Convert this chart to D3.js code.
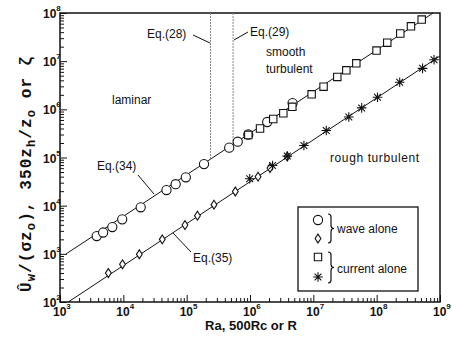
<!DOCTYPE html>
<html>
<head>
<meta charset="utf-8">
<script src="https://d3js.org/d3.v7.min.js"></script>
<style>
body { margin: 0; background: #fff; }
text { font-family: "Liberation Sans", Arial, sans-serif; fill: #111; }
</style>
</head>
<body>
<div id="visu"></div>
<script>

// Dimensions
var largeur = 452,
    hauteur = 344,
    marge = {haut: 13, droite: 12, bas: 42, gauche: 60};

// Exposants des graduations (10^n)
var expX = [3, 4, 5, 6, 7, 8, 9];
var expY = [2, 3, 4, 5, 6, 7, 8];

// wave alone, cercles (ligne du haut)
var cercleRa  = [3.8e3, 4.8e3, 6.7e3, 9.6e3, 1.88e4, 4.8e4, 6.7e4, 9.7e4, 1.88e5, 4.7e5, 6.4e5, 9.4e5, 1.87e6, 4.7e6];
var cercleVal = [2.34e3, 2.77e3, 3.6e3, 5.2e3, 9.25e3, 2.11e4, 2.79e4, 3.88e4, 7.3e4, 1.6e5, 2.13e5, 3.0e5, 5.46e5, 1.35e6];

// current alone, carrés (ligne du haut)
var carreRa  = [9.4e5, 1.44e6, 2.33e6, 3.36e6, 4.66e6, 9.4e6, 1.45e7, 2.39e7, 3.32e7, 4.77e7, 9.95e7, 1.47e8, 2.36e8, 3.48e8, 5.14e8];
var carreVal = [2.93e5, 4.0e5, 6.3e5, 8.3e5, 1.13e6, 2.05e6, 2.95e6, 4.7e6, 6.46e6, 9.0e6, 1.66e7, 2.42e7, 3.75e7, 5.3e7, 7.3e7];

// wave alone, losanges (ligne du bas)
var losangeRa  = [5.8e3, 9.7e3, 1.79e4, 4.12e4, 9.4e4, 1.48e5, 2.7e5, 5.87e5, 1.34e6, 2.07e6, 3.88e6];
var losangeVal = [4.0e2, 6.07e2, 9.8e2, 2.0e3, 3.96e3, 6.19e3, 1.05e4, 1.97e4, 3.99e4, 6.05e4, 1.05e5];

// current alone, étoiles (ligne du bas)
var etoileRa  = [9.9e5, 2.27e6, 3.88e6, 7.1e6, 1.6e7, 3.63e7, 5.8e7, 1.03e8, 2.31e8, 5.3e8, 8.05e8];
var etoileVal = [3.63e4, 6.8e4, 1.07e5, 1.77e5, 3.63e5, 6.93e5, 1.07e6, 1.78e6, 3.66e6, 7.1e6, 1.07e7];

// Droites Eq.(34) et Eq.(35)
var hautRa = [1.25e3, 7.8e8], hautVal = [1e3, 1e8];
var basRa  = [1.35e3, 1e9],   basVal  = [1e2, 1.28e7];

// Limites Eq.(28) et Eq.(29)
var limitesRa = [2.38e5, 5.4e5];

var svg = d3.select("#visu")
  .append("svg")
    .attr("width", largeur)
    .attr("height", hauteur);

var x = d3.scaleLog().domain([1e3, 1e9]).range([marge.gauche, largeur - marge.droite]);
var y = d3.scaleLog().domain([1e2, 1e8]).range([hauteur - marge.bas, marge.haut]);

// graduations mineures
var mineurs = [];
for (var e = 3; e < 9; e++) for (var m = 2; m < 10; m++) mineurs.push(m * Math.pow(10, e));
var mineursY = mineurs.map(d => d / 10);

var basY = hauteur - marge.bas;

svg.append("g").attr("transform", "translate(0," + basY + ")")
  .call(d3.axisBottom(x).tickValues(expX.map(d => Math.pow(10, d))).tickSize(-7).tickFormat(""));
svg.append("g").attr("transform", "translate(0," + basY + ")")
  .call(d3.axisBottom(x).tickValues(mineurs).tickSize(-4).tickFormat(""));
svg.append("g").attr("transform", "translate(" + marge.gauche + ",0)")
  .call(d3.axisLeft(y).tickValues(expY.map(d => Math.pow(10, d))).tickSize(-7).tickFormat(""));
svg.append("g").attr("transform", "translate(" + marge.gauche + ",0)")
  .call(d3.axisLeft(y).tickValues(mineursY).tickSize(-4).tickFormat(""));
svg.selectAll(".domain").remove();
svg.selectAll(".tick line").attr("stroke", "#111").attr("stroke-width", 1);

// cadre
svg.append("rect")
  .attr("x", marge.gauche).attr("y", marge.haut)
  .attr("width", largeur - marge.droite - marge.gauche)
  .attr("height", basY - marge.haut)
  .attr("fill", "none").attr("stroke", "#111").attr("stroke-width", 1.5);

// étiquettes des axes
expX.forEach(function(n) {
  var t = svg.append("text")
    .attr("x", x(Math.pow(10, n)) - 7).attr("y", basY + 14)
    .style("font-size", "12px").style("font-weight", "bold");
  t.append("tspan").text("10");
  t.append("tspan").attr("dy", -7).style("font-size", "8px").text(n);
});
expY.forEach(function(n) {
  var t = svg.append("text")
    .attr("x", marge.gauche - 17).attr("y", y(Math.pow(10, n)) + 5)
    .style("font-size", "12px").style("font-weight", "bold");
  t.append("tspan").text("10");
  t.append("tspan").attr("dy", -7).style("font-size", "8px").text(n);
});

svg.append("text")
  .attr("x", 251).attr("y", 330)
  .attr("text-anchor", "middle")
  .style("font-size", "13px").style("font-weight", "bold")
  .text("Ra, 500Rc or R");

// titre axe y
var ty = svg.append("text")
  .attr("transform", "translate(31,292) rotate(-90)")
  .style("font-family", "'Liberation Mono', monospace")
  .style("font-size", "16px").style("font-weight", "bold")
  .style("letter-spacing", "1.1px");
var morceaux = [["Û", 0], ["w", 1], ["/(σz", 0], ["o", 1], ["), 350z", 0], ["h", 1], ["/z", 0], ["o", 1], [" or ζ", 0]];
var bas = false;
morceaux.forEach(function(p) {
  var s = ty.append("tspan").text(p[0]);
  if (p[1] && !bas) { s.attr("dy", 4).style("font-size", "12px"); bas = true; }
  else if (!p[1] && bas) { s.attr("dy", -4); bas = false; }
});

// droites
var ligne = d3.line().x(d => x(d[0])).y(d => y(d[1]));
svg.append("path").datum(d3.zip(hautRa, hautVal)).attr("d", ligne)
  .attr("fill", "none").attr("stroke", "#111").attr("stroke-width", 1);
svg.append("path").datum(d3.zip(basRa, basVal)).attr("d", ligne)
  .attr("fill", "none").attr("stroke", "#111").attr("stroke-width", 1);

// limites verticales (pointillés) jusqu'à la droite du haut
var pente = (Math.log10(hautVal[1]) - Math.log10(hautVal[0])) / (Math.log10(hautRa[1]) - Math.log10(hautRa[0]));
limitesRa.forEach(function(r) {
  var v = Math.pow(10, Math.log10(hautVal[0]) + pente * (Math.log10(r) - Math.log10(hautRa[0])));
  svg.append("line")
    .attr("x1", x(r)).attr("x2", x(r))
    .attr("y1", marge.haut).attr("y2", y(v))
    .attr("stroke", "#888").attr("stroke-width", 1)
    .attr("stroke-dasharray", "2,1");
});

// symboles
function etoile(s) {
  var p = "";
  for (var i = 0; i < 4; i++) {
    var a = i * Math.PI / 4, c = Math.cos(a) * s, d = Math.sin(a) * s;
    p += "M" + (-c) + "," + (-d) + "L" + c + "," + d;
  }
  return p;
}
var formes = {
  cercle:  "M4.6,0A4.6,4.6 0 1,1 -4.6,0A4.6,4.6 0 1,1 4.6,0Z",
  carre:   "M-3.7,-3.7H3.7V3.7H-3.7Z",
  losange: "M0,-4.4L2.9,0L0,4.4L-2.9,0Z",
  etoile:  etoile(4.8)
};

function points(ra, val, forme) {
  svg.append("g").selectAll("path")
    .data(d3.zip(ra, val))
    .enter().append("path")
      .attr("transform", d => "translate(" + x(d[0]) + "," + y(d[1]) + ")")
      .attr("d", formes[forme])
      .attr("fill", forme == "etoile" ? "none" : "#fff")
      .attr("stroke", "#111")
      .attr("stroke-width", 1.1);
}
points(cercleRa, cercleVal, "cercle");
points(losangeRa, losangeVal, "losange");
points(carreRa, carreVal, "carre");
points(etoileRa, etoileVal, "etoile");

// annotations
function note(tx, ty2, txt) {
  svg.append("text").attr("x", tx).attr("y", ty2).style("font-size", "12px").text(txt);
}
function trait(x1, y1, x2, y2) {
  svg.append("line").attr("x1", x1).attr("y1", y1).attr("x2", x2).attr("y2", y2)
    .attr("stroke", "#111").attr("stroke-width", 1);
}
note(147, 38, "Eq.(28)");
trait(193, 35, 210, 43);
note(250, 36, "Eq.(29)");
trait(248, 32, 234, 40);
note(266, 56, "smooth");
note(266, 73, "turbulent");
note(112, 104, "laminar");
note(97, 170, "Eq.(34)");
trait(138, 175, 154, 194);
note(193, 262, "Eq.(35)");
trait(173, 233, 191, 252);
svg.append("text").attr("x", 330).attr("y", 162)
  .style("font-size", "12px").style("letter-spacing", "0.6px").text("rough turbulent");

// légende
svg.append("rect").attr("x", 298).attr("y", 207).attr("width", 120).attr("height", 84)
  .attr("fill", "#fff").attr("stroke", "#111").attr("stroke-width", 1.3);
[["cercle", 220], ["losange", 238.5], ["carre", 257], ["etoile", 277]].forEach(function(l) {
  svg.append("path").attr("transform", "translate(318," + l[1] + ")")
    .attr("d", formes[l[0]])
    .attr("fill", "none").attr("stroke", "#111").attr("stroke-width", 1.1);
});
function accolade(xa, y1, y2) {
  var m = (y1 + y2) / 2;
  svg.append("path")
    .attr("d", "M" + xa + "," + y1 + "Q" + (xa + 3) + "," + y1 + " " + (xa + 3) + "," + (y1 + 3) +
               "L" + (xa + 3) + "," + (m - 3) + "Q" + (xa + 3) + "," + m + " " + (xa + 6) + "," + m +
               "Q" + (xa + 3) + "," + m + " " + (xa + 3) + "," + (m + 3) +
               "L" + (xa + 3) + "," + (y2 - 3) + "Q" + (xa + 3) + "," + y2 + " " + xa + "," + y2)
    .attr("fill", "none").attr("stroke", "#111").attr("stroke-width", 1.2);
}
accolade(328, 214, 243);
accolade(328, 252, 283);
note(337, 233, "wave alone");
note(337, 273, "current alone");

</script>
</body>
</html>
